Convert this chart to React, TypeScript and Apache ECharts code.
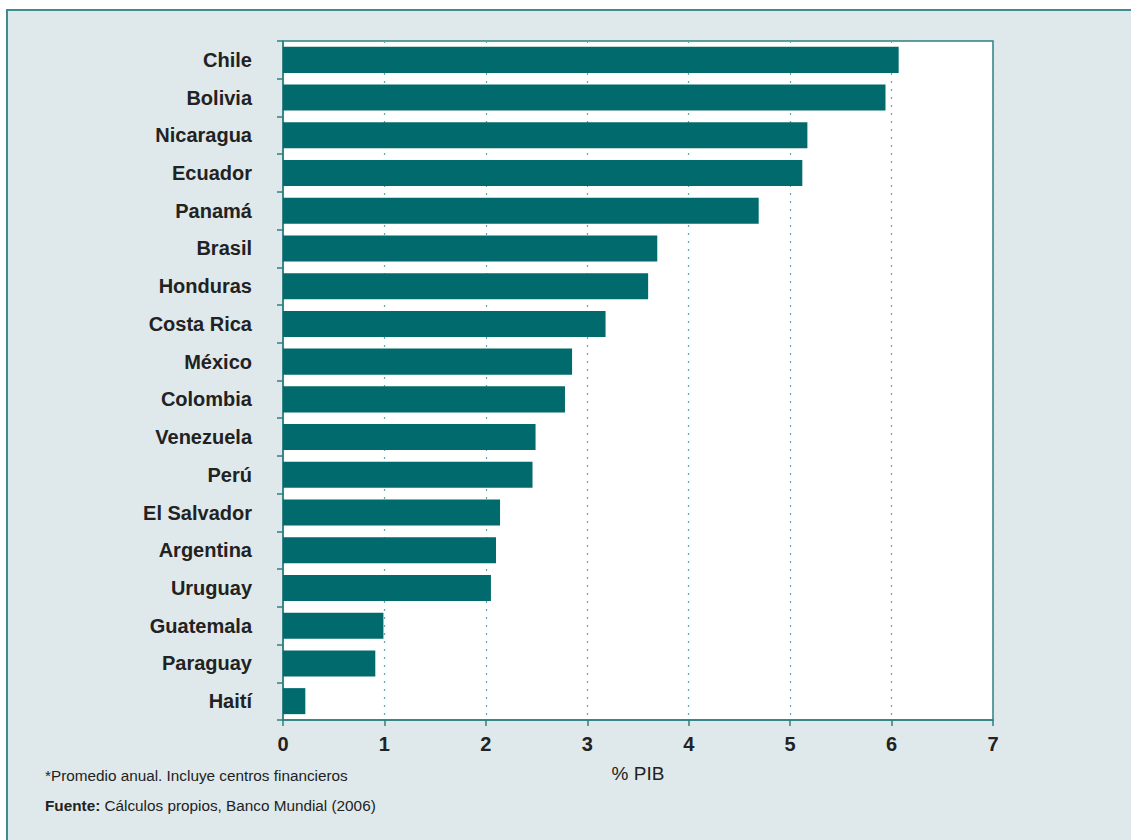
import React, { useEffect, useRef } from "react";
import * as echarts from "echarts";

const countries = ["Chile", "Bolivia", "Nicaragua", "Ecuador", "Panamá", "Brasil", "Honduras", "Costa Rica", "México", "Colombia", "Venezuela", "Perú", "El Salvador", "Argentina", "Uruguay", "Guatemala", "Paraguay", "Haití"];
const values = [6.07, 5.94, 5.17, 5.12, 4.69, 3.69, 3.6, 3.18, 2.85, 2.78, 2.49, 2.46, 2.14, 2.1, 2.05, 0.99, 0.91, 0.22];
const axisName = "% PIB";
const note = "*Promedio anual. Incluye centros financieros";
const sourceLabel = "Fuente:";
const sourceText = " Cálculos propios, Banco Mundial (2006)";

const FONT = "'Liberation Sans Narrow', 'Arial Narrow', 'Liberation Sans', Arial, sans-serif";

export default function App() {
  const ref = useRef<HTMLDivElement>(null);
  useEffect(() => {
    const chart = echarts.init(ref.current!, null, { renderer: "svg" });
    chart.setOption({
      animation: false,
      backgroundColor: "#ffffff",
      graphic: [
        {
          type: "rect",
          z: -10,
          shape: { x: 7, y: 10, width: 1200, height: 900 },
          style: { fill: "#dfe9eb", stroke: "#3f8c8f", lineWidth: 2 },
        },
        {
          type: "text",
          x: 638,
          y: 773,
          style: { text: axisName, font: `19px ${FONT}`, fill: "#222", align: "center", verticalAlign: "middle" },
        },
        {
          type: "text",
          x: 45,
          y: 775,
          style: { text: note, font: `15.3px ${FONT}`, fill: "#222", verticalAlign: "middle" },
        },
        {
          type: "text",
          x: 45,
          y: 805,
          style: {
            text: `{b|${sourceLabel}}{n|${sourceText}}`,
            verticalAlign: "middle",
            rich: {
              b: { font: `bold 15.3px ${FONT}`, fill: "#222" },
              n: { font: `15.3px ${FONT}`, fill: "#222" },
            },
          },
        },
      ],
      grid: {
        left: 283,
        top: 41,
        right: 138,
        bottom: 120,
        show: true,
        backgroundColor: "#ffffff",
        borderColor: "#2f7f80",
        borderWidth: 1.5,
      },
      xAxis: {
        type: "value",
        min: 0,
        max: 7,
        interval: 1,
        axisLine: { show: true, lineStyle: { color: "#2f7f80", width: 1.5 } },
        axisTick: { show: true, length: 6, lineStyle: { color: "#2f7f80", width: 1.5 } },
        splitLine: { show: true, lineStyle: { color: "#5fa6aa", type: [2, 6], width: 1.2 } },
        axisLabel: { fontFamily: FONT, fontSize: 20, fontWeight: "bold", color: "#222", margin: 14 },
      },
      yAxis: {
        type: "category",
        inverse: true,
        data: countries,
        axisLine: { show: true, lineStyle: { color: "#2f7f80", width: 1.5 } },
        axisTick: { show: true, length: 6, alignWithLabel: false, lineStyle: { color: "#2f7f80", width: 1.5 } },
        splitLine: { show: false },
        axisLabel: { fontFamily: FONT, fontSize: 20, fontWeight: "bold", color: "#222", margin: 31 },
      },
      series: [
        {
          type: "bar",
          data: values,
          barCategoryGap: "31%",
          itemStyle: { color: "#006a6c" },
        },
      ],
    });
    return () => chart.dispose();
  }, []);
  return <div ref={ref} style={{ position: "fixed", left: 0, top: 0, width: 1131, height: 840 }} />;
}
